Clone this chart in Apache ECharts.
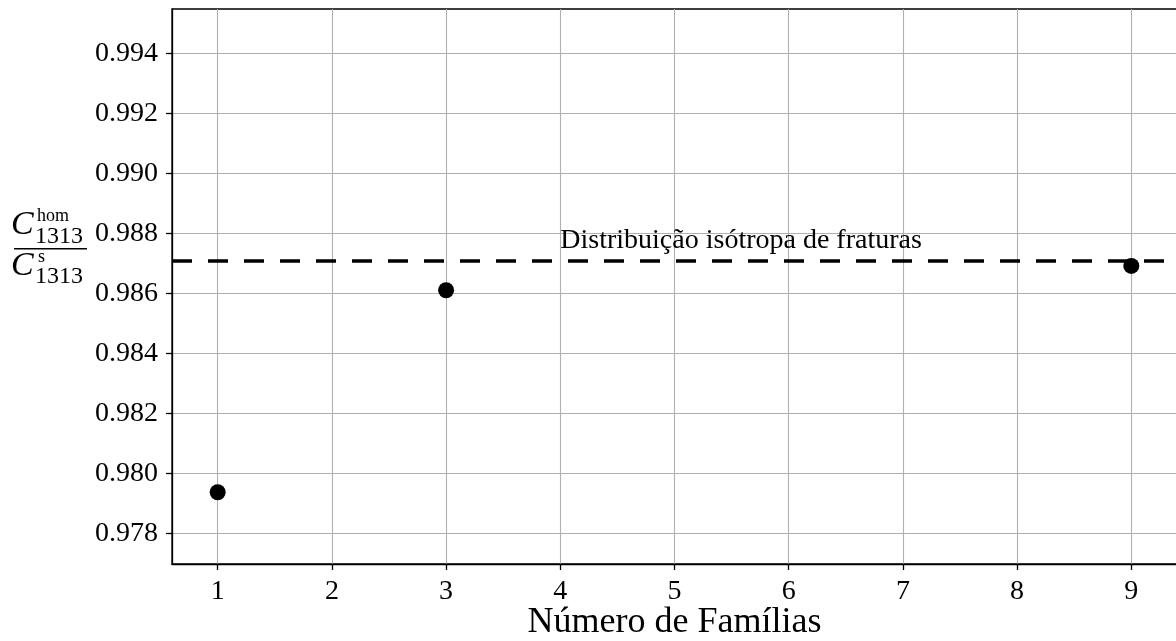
<!DOCTYPE html>
<html>
<head>
<meta charset="utf-8">
<script src="https://cdn.jsdelivr.net/npm/echarts@6/dist/echarts.min.js"></script>
<style>
  html, body { margin: 0; padding: 0; background: #fff; }
  #chart { width: 1176px; height: 641px; }
</style>
</head>
<body>
<div id="chart"></div>
<script>
// Number of fracture families and normalised stiffness ratio C1313_hom / C1313_s
const families = [1, 3, 9];
const ratio = [0.97938, 0.98611, 0.98692];

// Isotropic fracture distribution reference level
const isotropicLevel = 0.98708;
const isotropicLabel = 'Distribuição isótropa de fraturas';
const isotropicLabelAt = [4, 0.9873];

// Tick positions
const xTicks = [1, 2, 3, 4, 5, 6, 7, 8, 9];
const yTicks = [0.978, 0.980, 0.982, 0.984, 0.986, 0.988, 0.990, 0.992, 0.994];

const FONT = '"Liberation Serif", "DejaVu Serif", serif';

const chart = echarts.init(document.getElementById('chart'), null, { renderer: 'canvas' });

// Stacked-fraction y-axis title: C^hom_1313 / C^s_1313
function mathText(text, x, yMid, size, italic) {
  return {
    type: 'text', x: x, y: yMid, silent: true,
    style: {
      text: text, fill: '#000', verticalAlign: 'middle', align: 'left',
      font: (italic ? 'italic ' : '') + size + 'px ' + FONT
    }
  };
}

chart.setOption({
  animation: false,
  backgroundColor: '#ffffff',
  grid: {
    left: 172, top: 9, width: 1005, height: 555,
    outerBoundsMode: 'none',
    containLabel: false,
    show: true, borderColor: '#000', borderWidth: 1.3, backgroundColor: 'transparent'
  },
  xAxis: {
    type: 'value',
    min: 0.6, max: 9.4,
    name: 'Número de Famílias',
    nameLocation: 'middle',
    nameGap: 41,
    nameMoveOverlap: false,
    nameTextStyle: { fontFamily: FONT, fontSize: 36, color: '#000' },
    axisLine: { show: true, onZero: false, lineStyle: { color: '#000', width: 1.3 } },
    axisTick: { show: true, inside: false, length: 6, lineStyle: { color: '#000', width: 1.3 }, customValues: xTicks },
    axisLabel: {
      show: true, margin: 14, fontFamily: FONT, fontSize: 28, color: '#000',
      customValues: xTicks, formatter: v => String(Math.round(v))
    },
    splitLine: { show: true, lineStyle: { color: '#b0b0b0', width: 1.1 } }
  },
  yAxis: {
    type: 'value',
    min: 0.97699, max: 0.99548,
    axisLine: { show: true, onZero: false, lineStyle: { color: '#000', width: 1.3 } },
    axisTick: { show: true, inside: false, length: 6, lineStyle: { color: '#000', width: 1.3 }, customValues: yTicks },
    axisLabel: {
      show: true, margin: 14, fontFamily: FONT, fontSize: 28, color: '#000',
      customValues: yTicks, formatter: v => v.toFixed(3)
    },
    splitLine: { show: true, lineStyle: { color: '#b0b0b0', width: 1.1 } }
  },
  series: [
    {
      type: 'scatter',
      data: families.map((f, i) => [f, ratio[i]]),
      symbol: 'circle',
      symbolSize: 16,
      itemStyle: { color: '#000', opacity: 1 },
      z: 5,
      markLine: {
        silent: true,
        precision: 6,
        symbol: ['none', 'none'],
        label: { show: false },
        lineStyle: { color: '#000', width: 3.5, type: [20, 16], opacity: 1 },
        data: [{ yAxis: isotropicLevel }]
      }
    },
    {
      type: 'scatter',
      data: [isotropicLabelAt],
      symbolSize: 0,
      silent: true,
      itemStyle: { opacity: 1 },
      label: {
        show: true,
        position: [0, 0],
        align: 'left',
        verticalAlign: 'bottom',
        formatter: isotropicLabel,
        fontFamily: FONT,
        fontSize: 28,
        color: '#000'
      }
    }
  ],
  graphic: [
    mathText('C', 11, 225.5, 34, true),
    mathText('hom', 37, 215.9, 18, false),
    mathText('1313', 35, 236.9, 24, false),
    { type: 'rect', silent: true, shape: { x: 14, y: 248, width: 73, height: 1.6 }, style: { fill: '#000' } },
    mathText('C', 11, 266.5, 34, true),
    mathText('s', 38, 256.9, 18, false),
    mathText('1313', 35, 276.9, 24, false)
  ]
});
</script>
</body>
</html>
